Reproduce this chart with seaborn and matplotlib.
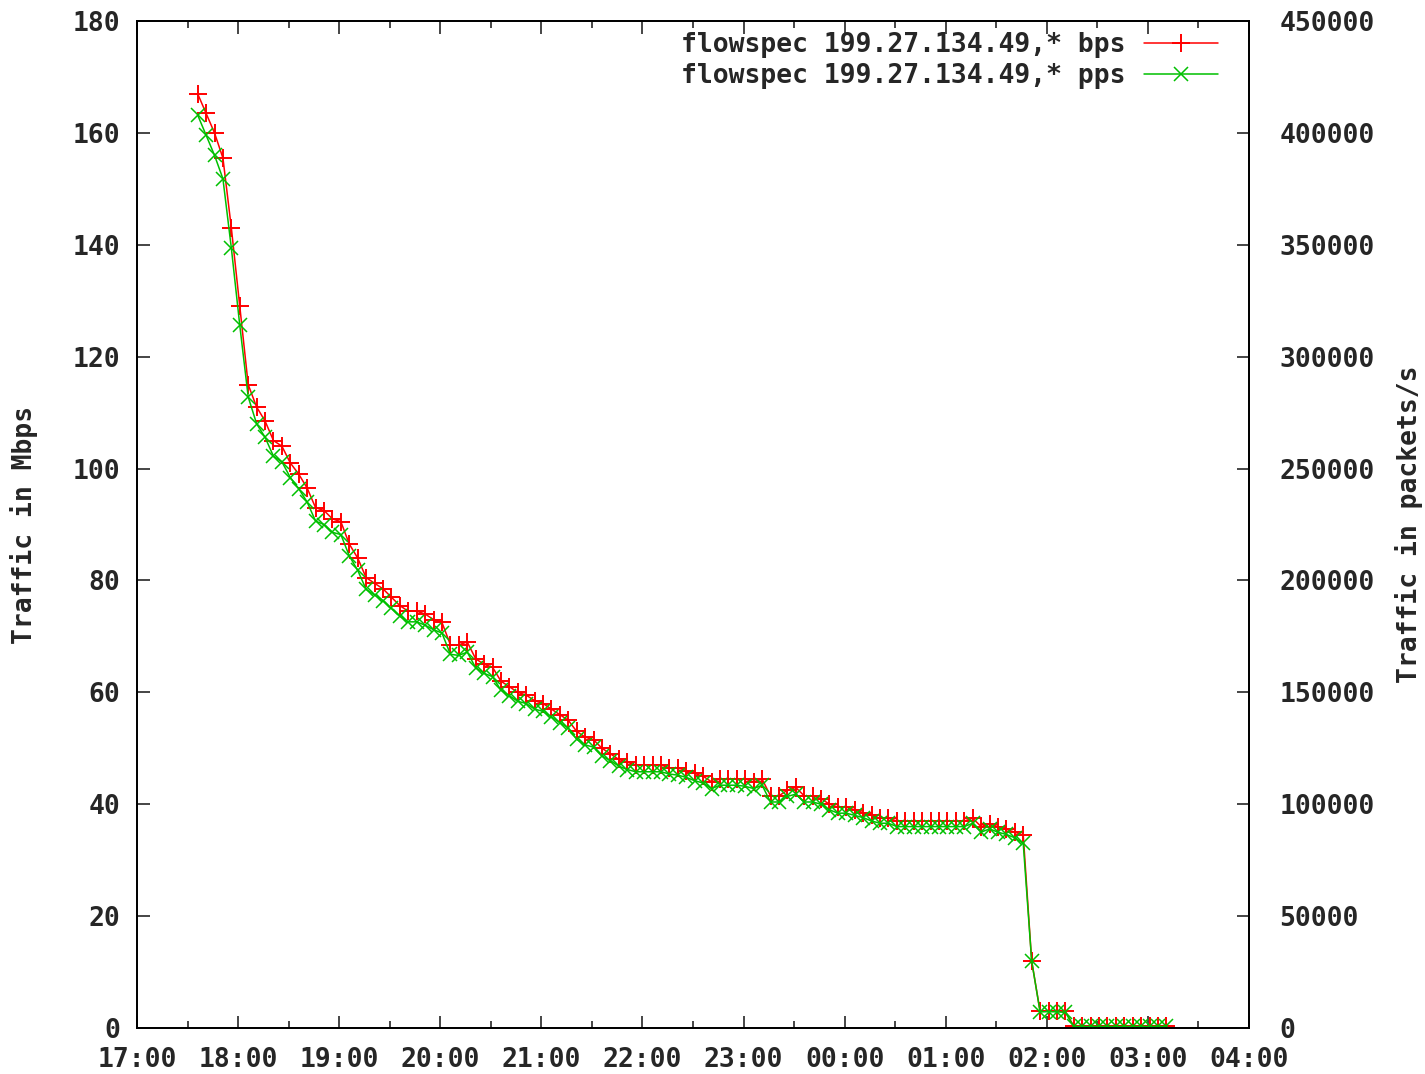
import matplotlib
matplotlib.use("Agg")
import matplotlib.pyplot as plt
import matplotlib.dates as mdates
import pandas as pd
import seaborn as sns

# --- data (5 minute samples) ---
start_time = "2012-01-01 17:36"
sample_step = "5min"

bps_mbps = [
    167, 163.5, 160, 155.5, 143, 129, 115, 111, 108.5, 105,
    104, 101, 99, 96.5, 93, 92.5, 91, 90.5, 86.5, 84,
    80.5, 79.5, 78.5, 77, 75.5, 74.5, 74.5, 74, 73, 72.5,
    68.5, 68.5, 69, 66, 65, 64.5, 62, 61, 60, 59.5,
    58.5, 58, 57, 56, 55, 53, 52, 51.5, 50, 49,
    48, 47.5, 47, 47, 47, 47, 46.5, 46.5, 46, 45.5,
    45, 44, 44.5, 44.5, 44.5, 44.5, 44, 44.5, 41.5, 41.5,
    42.5, 43, 41.5, 41.5, 41, 40, 39.5, 39.5, 39, 38.5,
    38, 37.5, 37.5, 37, 37, 37, 37, 37, 37, 37,
    37, 37, 37.5, 36, 36.5, 36, 35.5, 35, 34.5, 12,
    3, 3, 3, 3, 0.3, 0.3, 0.3, 0.3, 0.3, 0.3,
    0.3, 0.3, 0.3, 0.3, 0.3, 0.3,
]

pps = [
    408000, 399000, 390000, 379500, 348500, 314000, 282000, 270000, 264000, 255500,
    253000, 246000, 241000, 235000, 226500, 225000, 221500, 220500, 211000, 204500,
    196000, 193500, 191000, 187500, 184000, 181500, 181500, 180000, 178000, 176500,
    167000, 166500, 168000, 161000, 158500, 157000, 151000, 148500, 146000, 145000,
    142500, 141500, 139000, 136500, 134000, 129000, 126500, 125500, 121500, 119500,
    117000, 115500, 114500, 114500, 114500, 114500, 113500, 113000, 112000, 110500,
    109500, 107000, 108500, 108500, 108500, 108000, 107000, 108500, 101000, 101000,
    103500, 104500, 101000, 101000, 100000, 97500, 96000, 96000, 95000, 94000,
    92500, 91500, 91500, 90000, 90000, 90000, 90000, 90000, 90000, 90000,
    90000, 90000, 91500, 87500, 89000, 87500, 86500, 85000, 82500, 30000,
    7200, 7300, 7200, 7000, 700, 700, 700, 700, 700, 700,
    700, 700, 700, 700, 700, 700,
]

label_bps = "flowspec 199.27.134.49,* bps"
label_pps = "flowspec 199.27.134.49,* pps"

times = pd.date_range(start_time, periods=len(bps_mbps), freq=sample_step)
df = pd.DataFrame({"time": times, "bps": bps_mbps, "pps": pps})

sns.set_style("white")
plt.rcParams["font.family"] = ["DejaVu Sans Mono"]
plt.rcParams["font.weight"] = "bold"
FS = 19

fig = plt.figure(figsize=(14.25, 10.74), dpi=100)
ax = fig.add_axes([137 / 1425, 1 - 1028 / 1074, 1112 / 1425, 1007 / 1074])
ax2 = ax.twinx()

red = "#ff0000"
green = "#00c000"

sns.lineplot(data=df, x="time", y="bps", ax=ax, color=red, lw=1.1,
             marker="+", markersize=13, markeredgewidth=1.4,
             markeredgecolor=red, label=label_bps, legend=False)
sns.lineplot(data=df, x="time", y="pps", ax=ax2, color=green, lw=1.1,
             marker="x", markersize=10.5, markeredgewidth=1.1,
             markeredgecolor=green, label=label_pps, legend=False)

# --- axes ranges / ticks ---
ax.set_xlim(pd.Timestamp("2012-01-01 17:00"), pd.Timestamp("2012-01-02 04:00"))
ax.set_ylim(0, 180)
ax2.set_ylim(0, 450000)
ax.set_yticks(range(0, 181, 20))
ax2.set_yticks(range(0, 450001, 50000))

ax.xaxis.set_major_locator(mdates.HourLocator(interval=1))
ax.xaxis.set_minor_locator(mdates.MinuteLocator(byminute=30))
ax.xaxis.set_major_formatter(mdates.DateFormatter("%H:%M"))

ax.tick_params(axis="x", which="major", direction="in", length=9, width=1.2,
               top=True, bottom=True, labelsize=FS, pad=14)
ax.tick_params(axis="x", which="minor", direction="in", length=5, width=1.2,
               top=True, bottom=True)
ax.tick_params(axis="y", direction="in", length=9, width=1.2,
               left=True, right=False, labelsize=FS, pad=12)
ax2.tick_params(axis="y", direction="in", length=9, width=1.2,
                right=True, left=False, labelsize=FS, pad=22)
for lab in ax2.get_yticklabels():
    lab.set_horizontalalignment("left")

for a in (ax, ax2):
    for sp in a.spines.values():
        sp.set_color("black")
        sp.set_linewidth(1.3)

ax.set_xlabel("")
ax.set_ylabel("Traffic in Mbps", fontsize=FS, fontweight="bold")
ax2.set_ylabel("Traffic in packets/s", fontsize=FS, fontweight="bold")
ax.yaxis.set_label_coords(-0.089, 0.5)
ax2.yaxis.set_label_coords(1.131, 0.5)

# --- legend, gnuplot style: text first, sample after ---
h1, l1 = ax.get_legend_handles_labels()
h2, l2 = ax2.get_legend_handles_labels()
ax2.legend(h1 + h2, l1 + l2, loc="upper right", bbox_to_anchor=(0.972, 0.989),
           frameon=False, markerfirst=False, numpoints=1, fontsize=FS,
           handlelength=2.8, handletextpad=0.7, labelspacing=0.2,
           borderpad=0, borderaxespad=0)

fig.savefig("out.png", dpi=100)
